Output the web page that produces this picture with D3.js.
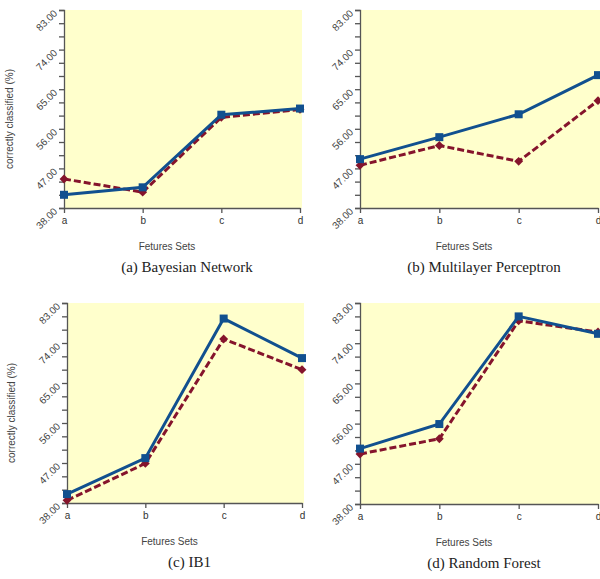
<!DOCTYPE html>
<html>
<head>
<meta charset="utf-8">
<script src="https://cdn.jsdelivr.net/npm/d3@7"></script>
<style>
  body { margin: 0; background: #fff; }
  .tick-label { font-family: Arial, "Liberation Sans", sans-serif; font-size: 10px; fill: #444; }
  .xlabel { font-family: Arial, "Liberation Sans", sans-serif; font-size: 10px; fill: #444; }
  .title { font-family: "Times New Roman", "Liberation Serif", serif; font-size: 15px; fill: #222; }
</style>
</head>
<body>
<svg id="chart"></svg>
<script>
// data
const categories = ["a", "b", "c", "d"];
const yTicks = [38, 47, 56, 65, 74, 83];
const panelTitles = ["(a) Bayesian Network", "(b) Multilayer Perceptron", "(c) IB1", "(d) Random Forest"];
const blueSeries = [
  [41.0, 42.7, 59.2, 60.6],
  [49.1, 54.1, 59.3, 68.2],
  [40.0, 48.1, 79.5, 70.6],
  [50.4, 55.9, 80.0, 76.1]
];
const redSeries = [
  [44.6, 41.6, 58.6, 60.4],
  [47.7, 52.2, 48.6, 62.4],
  [38.6, 46.9, 74.9, 68.0],
  [49.2, 52.6, 79.0, 76.5]
];

const svg = d3.select("#chart").attr("width", 600).attr("height", 579);

// panel layout: left, right, top, bottom of plot area
const layout = [
  {x0: 64, x1: 300, y0: 10, y1: 208, yLabel: true, ylx: 13},
  {x0: 360, x1: 598, y0: 10, y1: 208, yLabel: false},
  {x0: 67, x1: 302, y0: 303, y1: 503, yLabel: true, ylx: 15},
  {x0: 360, x1: 598, y0: 303, y1: 504, yLabel: false}
];

const blue = "#11508f";
const red = "#85142c";

layout.forEach((L, i) => {
  const g = svg.append("g");

  const x = d3.scalePoint().domain(categories).range([L.x0, L.x1]);
  const y = d3.scaleLinear().domain([38, 83]).range([L.y1, L.y0]);

  // background
  g.append("rect")
    .attr("x", L.x0).attr("y", L.y0)
    .attr("width", L.x1 - L.x0 + 2).attr("height", L.y1 - L.y0)
    .attr("fill", "#ffffcc");

  // y axis with minor ticks every 3
  const yAxis = d3.axisLeft(y)
    .tickValues(d3.range(38, 84, 3))
    .tickSize(5)
    .tickFormat("");
  const yg = g.append("g")
    .attr("transform", `translate(${L.x0},0)`)
    .call(yAxis);
  yg.selectAll("path, line").attr("stroke", "#555").attr("stroke-width", 1.3);

  // rotated tick labels
  g.selectAll(".tick-label")
    .data(yTicks)
    .enter().append("text")
    .attr("class", "tick-label")
    .attr("text-anchor", "end")
    .attr("transform", d => `translate(${L.x0 - 6},${y(d) + 4}) rotate(-45)`)
    .text(d => d.toFixed(2));

  // x axis
  const xAxis = d3.axisBottom(x).tickSize(5).tickSizeOuter(0).tickPadding(4);
  const xg = g.append("g")
    .attr("transform", `translate(0,${L.y1})`)
    .call(xAxis);
  xg.selectAll("path, line").attr("stroke", "#555").attr("stroke-width", 1.3);
  xg.selectAll("text")
    .attr("font-family", "Arial, 'Liberation Sans', sans-serif")
    .attr("font-size", 10).attr("fill", "#333");

  // axis labels
  g.append("text")
    .attr("class", "xlabel")
    .attr("text-anchor", "middle")
    .attr("x", (L.x0 + L.x1) / 2 - 15)
    .attr("y", L.y1 + 42)
    .text("Fetures Sets");

  if (L.yLabel) {
    g.append("text")
      .attr("class", "xlabel")
      .attr("text-anchor", "middle")
      .attr("transform", `translate(${L.ylx},${(L.y0 + L.y1) / 2 + 10}) rotate(-90)`)
      .attr("font-size", 9.5)
      .text("correctly classified (%)");
  }

  g.append("text")
    .attr("class", "title")
    .attr("text-anchor", "middle")
    .attr("x", (L.x0 + L.x1) / 2 + 5)
    .attr("y", L.y1 + 64)
    .text(panelTitles[i]);

  const line = d3.line()
    .x((d, j) => x(categories[j]))
    .y(d => y(d));

  // red dashed series
  g.append("path")
    .datum(redSeries[i])
    .attr("d", line)
    .attr("fill", "none")
    .attr("stroke", red)
    .attr("stroke-width", 3)
    .attr("stroke-dasharray", "7,3");
  g.selectAll(".red-pt")
    .data(redSeries[i])
    .enter().append("path")
    .attr("class", "red-pt")
    .attr("d", d3.symbol(d3.symbolDiamond2, 50))
    .attr("transform", (d, j) => `translate(${x(categories[j])},${y(d)})`)
    .attr("fill", red);

  // blue solid series
  g.append("path")
    .datum(blueSeries[i])
    .attr("d", line)
    .attr("fill", "none")
    .attr("stroke", blue)
    .attr("stroke-width", 3);
  g.selectAll(".blue-pt")
    .data(blueSeries[i])
    .enter().append("rect")
    .attr("class", "blue-pt")
    .attr("x", (d, j) => x(categories[j]) - 4)
    .attr("y", d => y(d) - 4)
    .attr("width", 8).attr("height", 8)
    .attr("fill", blue);
});
</script>
</body>
</html>
